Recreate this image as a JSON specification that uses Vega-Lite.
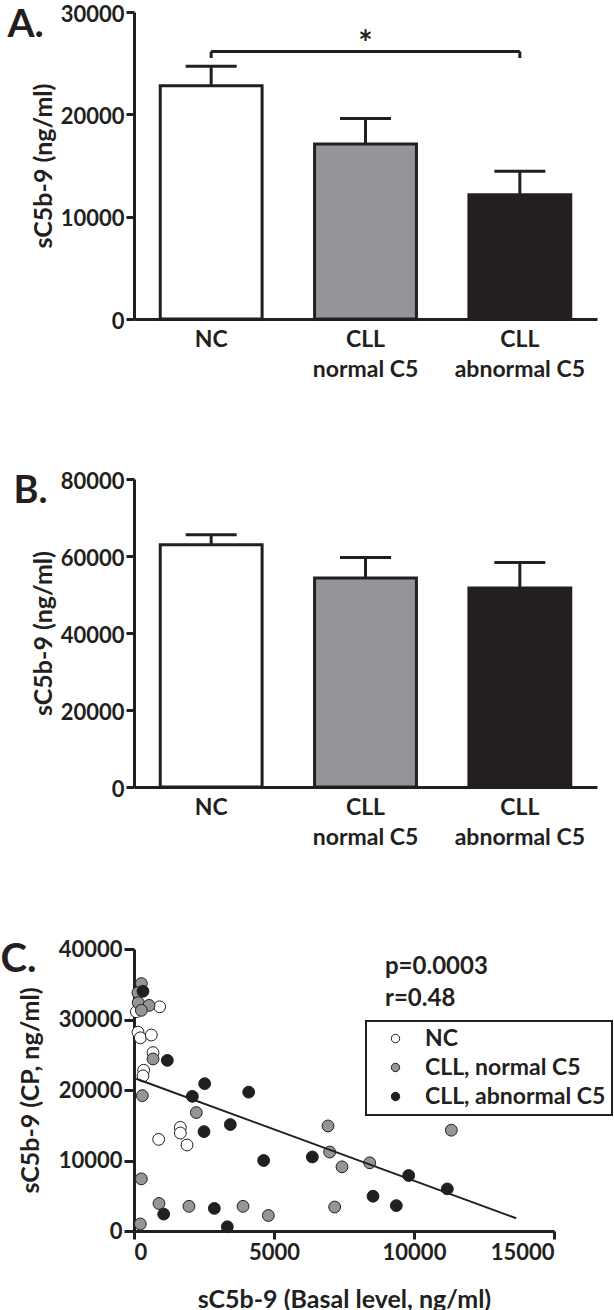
{
  "$schema": "https://vega.github.io/schema/vega-lite/v6.json",
  "padding": {"left": 0, "top": 3, "right": 0, "bottom": 0},
  "background": "white",
  "spacing": 89,
  "config": {
    "font": "Lato",
    "view": {"stroke": null},
    "axis": {
      "labelFont": "Lato", "titleFont": "Lato",
      "labelFontWeight": "bold", "titleFontWeight": "bold",
      "labelColor": "#231f20", "titleColor": "#231f20",
      "domainColor": "#231f20", "tickColor": "#231f20",
      "domainWidth": 3, "tickWidth": 3, "grid": false, "format": "d"
    },
    "legend": {"strokeWidth": 2}
  },
  "resolve": {"scale": {"fill": "independent", "x": "independent", "y": "independent"}, "legend": {"fill": "independent"}},
  "vconcat": [
    {
      "width": 463, "height": 307,
      "data": {"values": [
        {"group": "NC", "mean": 22800, "upper": 24700},
        {"group": "CLL|normal C5", "mean": 17100, "upper": 19600},
        {"group": "CLL|abnormal C5", "mean": 12150, "upper": 14450}
      ]},
      "encoding": {
        "x": {"field": "group", "type": "nominal", "sort": null,
          "scale": {"domain": ["NC", "CLL|normal C5", "CLL|abnormal C5"], "paddingInner": 0.34, "paddingOuter": 0.17},
          "axis": {"title": "A.", "titleX": -127, "titleY": -283, "titleAngle": 0, "titleAlign": "left", "titleBaseline": "alphabetic", "titleFontSize": 39, "titleAnchor": null,
            "labelExpr": "split(datum.value, '|')", "labelFontSize": 23, "ticks": false, "labelPadding": 9, "labelLineHeight": 30, "labelAngle": 0, "labelBaseline": "top"}}
      },
      "layer": [
        {"mark": {"type": "bar", "stroke": "#231f20", "strokeWidth": 3},
         "encoding": {
           "y": {"field": "mean", "type": "quantitative", "scale": {"domain": [0, 30000], "nice": false},
             "axis": {"title": "sC5b-9 (ng/ml)", "values": [0, 10000, 20000, 30000], "labelFontSize": 22, "titleFontSize": 25, "tickSize": 8, "labelPadding": 2, "titlePadding": 4, "labelOffset": 2}},
           "fill": {"field": "group", "type": "nominal", "scale": {"domain": ["NC", "CLL|normal C5", "CLL|abnormal C5"], "range": ["white", "#939598", "#231f20"]}, "legend": null}
         }},
        {"mark": {"type": "rule", "strokeWidth": 3, "color": "#231f20"},
         "encoding": {"y": {"field": "mean", "type": "quantitative"}, "y2": {"field": "upper"}}},
        {"mark": {"type": "tick", "thickness": 3, "size": 51, "color": "#231f20", "orient": "horizontal", "opacity": 1},
         "encoding": {"y": {"field": "upper", "type": "quantitative"}}},
        {"data": {"values": [{"from": "NC", "to": "CLL|abnormal C5", "level": 26140}]},
         "mark": {"type": "rule", "strokeWidth": 3, "color": "#231f20"},
         "encoding": {"x": {"field": "from", "type": "nominal"}, "x2": {"field": "to"}, "y": {"field": "level", "type": "quantitative"}}},
        {"data": {"values": [{"end": "NC", "top": 26140, "bottom": 25500}, {"end": "CLL|abnormal C5", "top": 26140, "bottom": 25500}]},
         "mark": {"type": "rule", "strokeWidth": 3, "color": "#231f20"},
         "encoding": {"x": {"field": "end", "type": "nominal"}, "y": {"field": "top", "type": "quantitative"}, "y2": {"field": "bottom"}}},
        {"data": {"values": [{"at": "CLL|normal C5", "level": 26800, "sig": "*"}]},
         "mark": {"type": "text", "fontSize": 34, "fontWeight": "bold", "color": "#231f20", "baseline": "middle"},
         "encoding": {"x": {"field": "at", "type": "nominal"}, "y": {"field": "level", "type": "quantitative"}, "text": {"field": "sig"}}}
      ]
    },
    {
      "width": 463, "height": 308,
      "data": {"values": [
        {"group": "NC", "mean": 62900, "upper": 65500},
        {"group": "CLL|normal C5", "mean": 54300, "upper": 59600},
        {"group": "CLL|abnormal C5", "mean": 51700, "upper": 58300}
      ]},
      "encoding": {
        "x": {"field": "group", "type": "nominal", "sort": null,
          "scale": {"domain": ["NC", "CLL|normal C5", "CLL|abnormal C5"], "paddingInner": 0.34, "paddingOuter": 0.17},
          "axis": {"title": "B.", "titleX": -121, "titleY": -285, "titleAngle": 0, "titleAlign": "left", "titleBaseline": "alphabetic", "titleFontSize": 38, "titleAnchor": null,
            "labelExpr": "split(datum.value, '|')", "labelFontSize": 23, "ticks": false, "labelPadding": 9, "labelLineHeight": 30, "labelAngle": 0, "labelBaseline": "top"}}
      },
      "layer": [
        {"mark": {"type": "bar", "stroke": "#231f20", "strokeWidth": 3},
         "encoding": {
           "y": {"field": "mean", "type": "quantitative", "scale": {"domain": [0, 80000], "nice": false},
             "axis": {"title": "sC5b-9 (ng/ml)", "values": [0, 20000, 40000, 60000, 80000], "labelFontSize": 22, "titleFontSize": 25, "tickSize": 8, "labelPadding": 2, "titlePadding": 4, "labelOffset": 2}},
           "fill": {"field": "group", "type": "nominal", "scale": {"domain": ["NC", "CLL|normal C5", "CLL|abnormal C5"], "range": ["white", "#939598", "#231f20"]}, "legend": null}
         }},
        {"mark": {"type": "rule", "strokeWidth": 3, "color": "#231f20"},
         "encoding": {"y": {"field": "mean", "type": "quantitative"}, "y2": {"field": "upper"}}},
        {"mark": {"type": "tick", "thickness": 3, "size": 51, "color": "#231f20", "orient": "horizontal", "opacity": 1},
         "encoding": {"y": {"field": "upper", "type": "quantitative"}}}
      ]
    },
    {
      "width": 420, "height": 282,
      "resolve": {"scale": {"x": "independent"}, "axis": {"x": "independent"}},
      "layer": [
        {"data": {"values": [
          {"basal": 83, "cp": 31100, "grp": "NC"},
          {"basal": 917, "cp": 31800, "grp": "NC"},
          {"basal": 143, "cp": 28200, "grp": "NC"},
          {"basal": 226, "cp": 27400, "grp": "NC"},
          {"basal": 619, "cp": 27800, "grp": "NC"},
          {"basal": 679, "cp": 25300, "grp": "NC"},
          {"basal": 345, "cp": 22800, "grp": "NC"},
          {"basal": 321, "cp": 22000, "grp": "NC"},
          {"basal": 1655, "cp": 14700, "grp": "NC"},
          {"basal": 1655, "cp": 13900, "grp": "NC"},
          {"basal": 881, "cp": 13000, "grp": "NC"},
          {"basal": 1893, "cp": 12200, "grp": "NC"},
          {"basal": 262, "cp": 35100, "grp": "CLL, normal C5"},
          {"basal": 140, "cp": 33800, "grp": "CLL, normal C5"},
          {"basal": 150, "cp": 32400, "grp": "CLL, normal C5"},
          {"basal": 536, "cp": 32000, "grp": "CLL, normal C5"},
          {"basal": 262, "cp": 31300, "grp": "CLL, normal C5"},
          {"basal": 679, "cp": 24400, "grp": "CLL, normal C5"},
          {"basal": 298, "cp": 19200, "grp": "CLL, normal C5"},
          {"basal": 2226, "cp": 16800, "grp": "CLL, normal C5"},
          {"basal": 6929, "cp": 14900, "grp": "CLL, normal C5"},
          {"basal": 6988, "cp": 11200, "grp": "CLL, normal C5"},
          {"basal": 7429, "cp": 9100, "grp": "CLL, normal C5"},
          {"basal": 8417, "cp": 9670, "grp": "CLL, normal C5"},
          {"basal": 11333, "cp": 14300, "grp": "CLL, normal C5"},
          {"basal": 262, "cp": 7400, "grp": "CLL, normal C5"},
          {"basal": 893, "cp": 3900, "grp": "CLL, normal C5"},
          {"basal": 1964, "cp": 3500, "grp": "CLL, normal C5"},
          {"basal": 3893, "cp": 3500, "grp": "CLL, normal C5"},
          {"basal": 4798, "cp": 2200, "grp": "CLL, normal C5"},
          {"basal": 226, "cp": 1000, "grp": "CLL, normal C5"},
          {"basal": 7167, "cp": 3400, "grp": "CLL, normal C5"},
          {"basal": 321, "cp": 34000, "grp": "CLL, abnormal C5"},
          {"basal": 1190, "cp": 24200, "grp": "CLL, abnormal C5"},
          {"basal": 2083, "cp": 19100, "grp": "CLL, abnormal C5"},
          {"basal": 2524, "cp": 20900, "grp": "CLL, abnormal C5"},
          {"basal": 4095, "cp": 19700, "grp": "CLL, abnormal C5"},
          {"basal": 2500, "cp": 14100, "grp": "CLL, abnormal C5"},
          {"basal": 3440, "cp": 15100, "grp": "CLL, abnormal C5"},
          {"basal": 4631, "cp": 10000, "grp": "CLL, abnormal C5"},
          {"basal": 6369, "cp": 10500, "grp": "CLL, abnormal C5"},
          {"basal": 1060, "cp": 2400, "grp": "CLL, abnormal C5"},
          {"basal": 2869, "cp": 3200, "grp": "CLL, abnormal C5"},
          {"basal": 3333, "cp": 600, "grp": "CLL, abnormal C5"},
          {"basal": 9810, "cp": 7870, "grp": "CLL, abnormal C5"},
          {"basal": 11190, "cp": 5970, "grp": "CLL, abnormal C5"},
          {"basal": 8536, "cp": 4930, "grp": "CLL, abnormal C5"},
          {"basal": 9369, "cp": 3600, "grp": "CLL, abnormal C5"}
        ]},
         "mark": {"type": "point", "shape": "circle", "filled": true, "size": 140, "stroke": "#231f20", "strokeWidth": 1, "opacity": 1},
         "encoding": {
           "x": {"field": "basal", "type": "quantitative", "scale": {"domain": [0, 15000], "nice": false},
             "axis": {"title": "sC5b-9 (Basal level, ng/ml)", "values": [0, 5000, 10000, 15000], "labelFontSize": 22, "titleFontSize": 25, "tickSize": 8, "labelPadding": 3, "titlePadding": 24}},
           "y": {"field": "cp", "type": "quantitative", "scale": {"domain": [0, 40000], "nice": false},
             "axis": {"title": "sC5b-9 (CP, ng/ml)", "values": [0, 10000, 20000, 30000, 40000], "labelFontSize": 22, "titleFontSize": 25, "tickSize": 10, "labelPadding": 2, "titlePadding": 15}},
           "fill": {"field": "grp", "type": "nominal",
             "scale": {"domain": ["NC", "CLL, normal C5", "CLL, abnormal C5"], "range": ["white", "#939598", "#231f20"]},
             "legend": {"title": null, "orient": "none", "legendX": 232, "legendY": 72, "strokeColor": "#231f20", "padding": 6, "symbolSize": 70, "symbolType": "circle", "symbolStrokeColor": "#231f20", "symbolStrokeWidth": 1, "symbolOffset": 12, "labelOffset": 18, "labelLimit": 400, "labelFont": "Lato", "labelFontSize": 23, "labelFontWeight": "bold", "labelColor": "#231f20", "rowPadding": 5}}
         }},
        {"data": {"values": [{"bx": 80, "by": 21600}, {"bx": 13650, "by": 1800}]},
         "mark": {"type": "line", "color": "#231f20", "strokeWidth": 2},
         "encoding": {"x": {"field": "bx", "type": "quantitative", "scale": {"domain": [0, 15000], "nice": false}, "axis": null}, "y": {"field": "by", "type": "quantitative"}}},
        {"data": {"values": [{"tx": 8964, "ty": 36450, "stat": "p=0.0003"}, {"tx": 8964, "ty": 31960, "stat": "r=0.48"}]},
         "mark": {"type": "text", "align": "left", "baseline": "alphabetic", "fontSize": 24, "fontWeight": "bold", "color": "#231f20", "font": "Lato"},
         "encoding": {
           "x": {"field": "tx", "type": "quantitative", "scale": {"domain": [0, 15000], "nice": false},
             "axis": {"orient": "top", "title": "C.", "labels": false, "ticks": false, "domain": false, "titleX": -134, "titleY": 22, "titleAngle": 0, "titleAlign": "left", "titleBaseline": "alphabetic", "titleFontSize": 40, "titleAnchor": null}},
           "y": {"field": "ty", "type": "quantitative"},
           "text": {"field": "stat"}}}
      ]
    }
  ]
}
